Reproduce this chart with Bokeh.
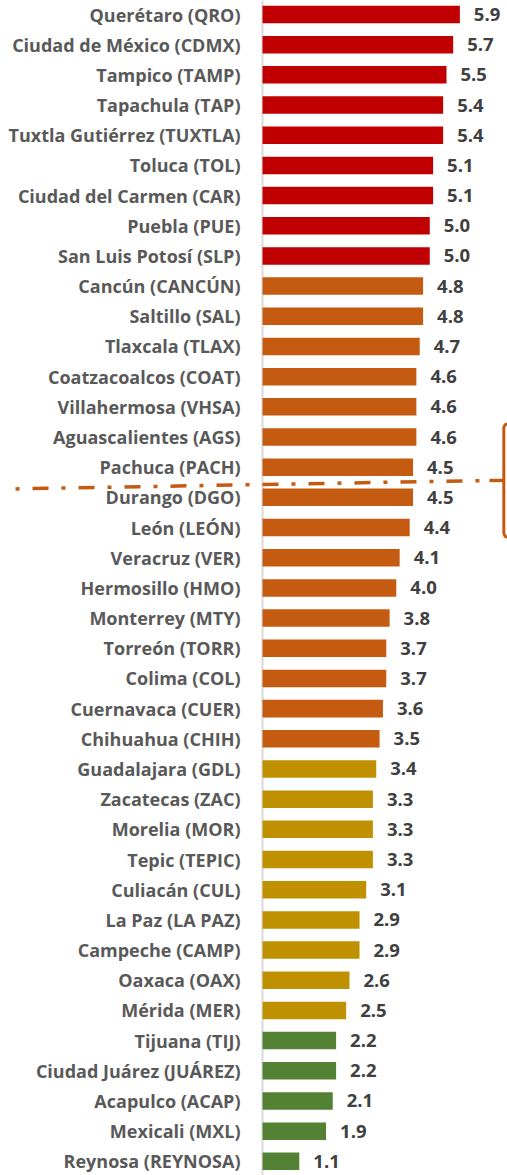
from bokeh.plotting import figure
from bokeh.models import ColumnDataSource, Range1d, Span
from bokeh.core.properties import value
from bokeh.embed import file_html
from bokeh.resources import INLINE

cities = ["Querétaro (QRO)", "Ciudad de México (CDMX)", "Tampico (TAMP)", "Tapachula (TAP)",
          "Tuxtla Gutiérrez (TUXTLA)", "Toluca (TOL)", "Ciudad del Carmen (CAR)", "Puebla (PUE)",
          "San Luis Potosí (SLP)", "Cancún (CANCÚN)", "Saltillo (SAL)", "Tlaxcala (TLAX)",
          "Coatzacoalcos (COAT)", "Villahermosa (VHSA)", "Aguascalientes (AGS)", "Pachuca (PACH)",
          "Durango (DGO)", "León (LEÓN)", "Veracruz (VER)", "Hermosillo (HMO)", "Monterrey (MTY)",
          "Torreón (TORR)", "Colima (COL)", "Cuernavaca (CUER)", "Chihuahua (CHIH)",
          "Guadalajara (GDL)", "Zacatecas (ZAC)", "Morelia (MOR)", "Tepic (TEPIC)", "Culiacán (CUL)",
          "La Paz (LA PAZ)", "Campeche (CAMP)", "Oaxaca (OAX)", "Mérida (MER)", "Tijuana (TIJ)",
          "Ciudad Juárez (JUÁREZ)", "Acapulco (ACAP)", "Mexicali (MXL)", "Reynosa (REYNOSA)"]
values = [5.9, 5.7, 5.5, 5.4, 5.4, 5.1, 5.1, 5.0, 5.0, 4.8, 4.8, 4.7, 4.6, 4.6, 4.6, 4.5,
          4.5, 4.4, 4.1, 4.0, 3.8, 3.7, 3.7, 3.6, 3.5, 3.4, 3.3, 3.3, 3.3, 3.1, 2.9, 2.9,
          2.6, 2.5, 2.2, 2.2, 2.1, 1.9, 1.1]
tiers = ["rojo"] * 9 + ["naranja"] * 16 + ["dorado"] * 9 + ["verde"] * 5
tier_colors = {"rojo": "#C00000", "naranja": "#C55A11", "dorado": "#BF9000", "verde": "#548235"}

idx = list(range(len(cities)))
src = ColumnDataSource(dict(
    idx=idx, city=cities, val=values,
    label=[f"{v:.1f}" for v in values],
    color=[tier_colors[t] for t in tiers],
))

p = figure(width=507, height=1175,
           x_range=Range1d(-7.833, 7.324), y_range=Range1d(38.47, -0.464),
           output_backend="svg", toolbar_location=None, min_border=0)
p.axis.visible = False
p.grid.visible = False
p.outline_line_color = None
p.background_fill_color = "white"

p.add_layout(Span(location=0, dimension="height", line_color="#d9d9d9",
                  line_width=2, level="underlay"))

p.hbar(y="idx", left=0, right="val", height=0.58, fill_color="color",
       line_color=None, source=src)

p.text(x=0, y="idx", text="city", x_offset=-22, text_align="right",
       text_baseline="middle", text_font=value("Open Sans"), text_font_style="bold",
       text_font_size="18px", text_color="#595959", source=src)

p.text(x="val", y="idx", text="label", x_offset=14, text_align="left",
       text_baseline="middle", text_font=value("Open Sans"), text_font_style="bold",
       text_font_size="18.5px", text_color="#404040", source=src)

# dash-dot separator and brace
p.line(x=[-7.384, 6.786], y=[15.72, 15.44], line_color="#C55A11", line_width=3.5,
       line_dash="16 13 4 13", line_dash_offset=29, line_cap="butt")
bx = 7.214
p.line(x=[7.33, bx + 0.04, bx, bx, bx + 0.04, 7.33],
       y=[13.56, 13.59, 13.68, 17.2, 17.29, 17.33],
       line_color="#C55A11", line_width=3)
p.line(x=[6.786, bx], y=[15.44, 15.44], line_color="#C55A11", line_width=3.4)

open("out.html", "w").write(file_html(p, INLINE))
